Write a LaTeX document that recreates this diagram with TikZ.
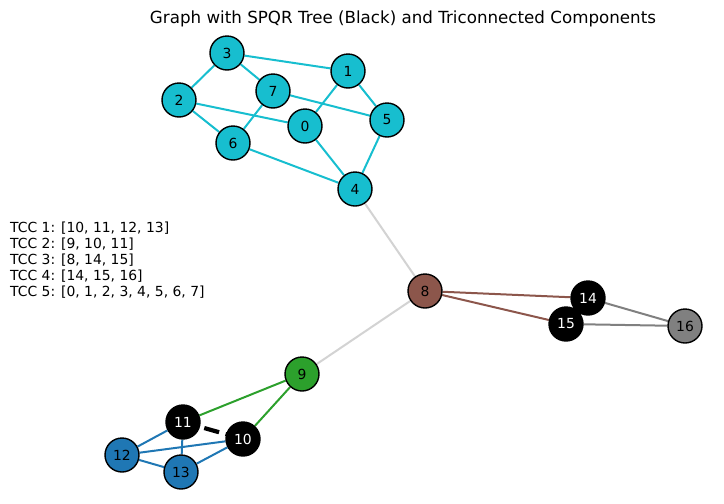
\documentclass[tikz,border=0pt]{standalone}
\usepackage{fontspec}
\setmainfont{DejaVu Sans}
\usetikzlibrary{backgrounds}

\definecolor{tcccyan}{HTML}{17BECF}
\definecolor{tccblue}{HTML}{1F77B4}
\definecolor{tccgreen}{HTML}{2CA02C}
\definecolor{tccbrown}{HTML}{8C564B}
\definecolor{tccgray}{HTML}{808080}
\definecolor{linkgray}{HTML}{D3D3D3}

\tikzset{
    vtx/.style={circle, draw=black, line width=1.4pt, minimum size=34pt, inner sep=0pt,
        font=\fontsize{13.9}{16}\selectfont},
    spqr/.style={vtx, fill=black, text=white},
    edge/.style={line width=2pt}
}

\begin{document}
\begin{tikzpicture}[x=1pt, y=-1pt]
            \useasboundingbox (0,0) rectangle (724,504);
            % Title
            \node (title) at (403,19) {\fontsize{16.7}{20}\selectfont Graph with SPQR Tree (Black) and Triconnected Components};

            % Component 5 - cyan block
            \node[vtx, fill=tcccyan] (n0) at (305,126) {0};
            \node[vtx, fill=tcccyan] (n1) at (348,71) {1};
            \node[vtx, fill=tcccyan] (n2) at (179,100) {2};
            \node[vtx, fill=tcccyan] (n3) at (227,53) {3};
            \node[vtx, fill=tcccyan] (n4) at (355,189) {4};
            \node[vtx, fill=tcccyan] (n5) at (387,120) {5};
            \node[vtx, fill=tcccyan] (n6) at (233,143) {6};
            \node[vtx, fill=tcccyan] (n7) at (273,91) {7};

            % Cut vertex and right side
            \node[vtx, fill=tccbrown] (n8) at (425,291) {8};
            \node[spqr] (n14) at (588,298) {14};
            \node[spqr] (n15) at (566,324) {15};
            \node[vtx, fill=tccgray] (n16) at (685,326) {16};

            % Lower left
            \node[vtx, fill=tccgreen] (n9) at (302,374) {9};
            \node[spqr] (n10) at (243,439) {10};
            \node[spqr] (n11) at (183,422) {11};
            \node[vtx, fill=tccblue] (n12) at (122,455) {12};
            \node[vtx, fill=tccblue] (n13) at (181,472) {13};

            % Legend text
            \node[anchor=north west, align=left, inner sep=0pt, font=\fontsize{13.9}{16}\selectfont] (legend) at (10,222)
                {TCC 1: [10, 11, 12, 13]\\TCC 2: [9, 10, 11]\\TCC 3: [8, 14, 15]\\TCC 4: [14, 15, 16]\\TCC 5: [0, 1, 2, 3, 4, 5, 6, 7]};

            % Edges
            \begin{scope}[on background layer]
                \foreach \a/\b in {3/1, 3/2, 3/7, 2/0, 2/6, 7/6, 7/5, 1/0, 1/5, 0/4, 6/4, 5/4}
                    \draw[edge, tcccyan] (n\a) -- (n\b);
                \draw[edge, linkgray] (n4) -- (n8);
                \draw[edge, linkgray] (n8) -- (n9);
                \foreach \b in {14, 15}
                    \draw[edge, tccbrown] (n8) -- (n\b);
                \foreach \a in {14, 15}
                    \draw[edge, tccgray] (n\a) -- (n16);
                \foreach \b in {10, 11}
                    \draw[edge, tccgreen] (n9) -- (n\b);
                \foreach \a/\b in {11/12, 11/13, 12/10, 12/13, 13/10}
                    \draw[edge, tccblue] (n\a) -- (n\b);
                \draw[line width=4.2pt, dash pattern=on 15.4pt off 6.7pt] (n11.center) -- (n10.center);
            \end{scope}
        \end{tikzpicture}
\end{document}
